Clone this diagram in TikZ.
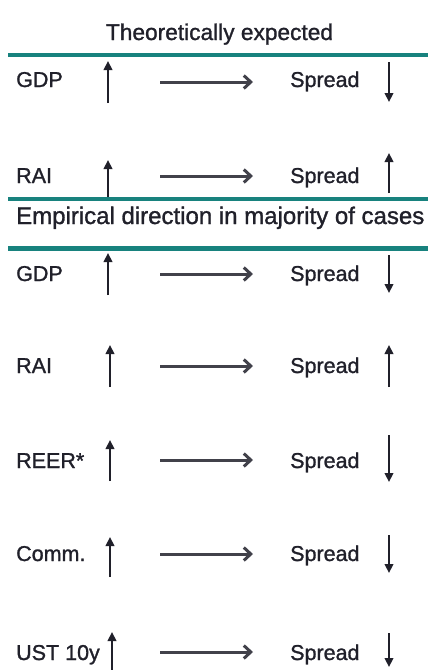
\documentclass[tikz,border=0pt]{standalone}
\usepackage{fontspec}
\setmainfont[FakeBold=1.2]{Liberation Sans}
\usetikzlibrary{arrows.meta}
\definecolor{tealrule}{RGB}{24,130,126}
\definecolor{ink}{RGB}{32,32,42}
% #1 name, #2 label, #3 baseline, #4 arrow y, #5 left arrow x,
% #6 left arrow bottom, #7 left arrow top, #8 right arrow start, #9 right arrow end
\newcommand{\sprow}[9]{%
  \node[lbl] (#1-lab) at (16,#3) {#2};
  \coordinate (#1-ls) at (#5,#6);
  \coordinate (#1-le) at (#5,#7);
  \draw[varrow] (#1-ls) -- (#1-le);
  \coordinate (#1-hs) at (160,#4);
  \coordinate (#1-he) at (253,#4);
  \draw[harrow] (#1-hs) -- (#1-he);
  \node[lbl] (#1-spr) at (290,#3) {Spread};
  \coordinate (#1-rs) at (389,#8);
  \coordinate (#1-re) at (389,#9);
  \draw[varrow] (#1-rs) -- (#1-re);
}
\begin{document}
\begin{tikzpicture}[x=1pt,y=-1pt,
  rule/.style={draw=tealrule,line width=4.5pt},
  lbl/.style={anchor=base west,inner sep=0pt,text=ink,font=\fontsize{21.5}{24}\selectfont},
  head/.style={anchor=base,inner sep=0pt,text=ink},
  varrow/.style={draw=ink,line width=2.6pt,-{Triangle[length=9pt,width=8.5pt]}},
  harrow/.style={draw=ink!85,line width=3pt,-{Straight Barb[length=7pt,width=13pt]}}]
\useasboundingbox (0,0) rectangle (428,670);
\node[head,font=\fontsize{22.7}{26}\selectfont] (title1) at (219.5,40) {Theoretically expected};
\coordinate (r1a) at (8,55);  \coordinate (r1b) at (428,55);
\draw[rule] (r1a) -- (r1b);
\sprow{ta}{GDP}{87}{82}{108}{103}{61}{62}{102}
\sprow{tb}{RAI}{183}{176}{108}{198}{160}{193}{153}
\coordinate (r2a) at (8,199); \coordinate (r2b) at (428,199);
\draw[rule] (r2a) -- (r2b);
\node[anchor=base west,inner sep=0pt,text=ink,font=\fontsize{24}{27}\selectfont] (title2) at (16,224) {Empirical direction in majority of cases};
\coordinate (r3a) at (8,248.5); \coordinate (r3b) at (428,248.5);
\draw[rule] (r3a) -- (r3b);
\sprow{ea}{GDP}{281}{274}{108}{295}{253}{255}{293}
\sprow{eb}{RAI}{373}{366}{110}{387}{345}{387}{345}
\sprow{ec}{REER*}{468}{460}{110}{481}{440}{435}{482}
\sprow{ed}{Comm.}{561}{554}{110}{577}{537}{535}{573}
\sprow{ee}{UST 10y}{660}{652}{112}{672}{632}{633}{667}
\end{tikzpicture}
\end{document}
